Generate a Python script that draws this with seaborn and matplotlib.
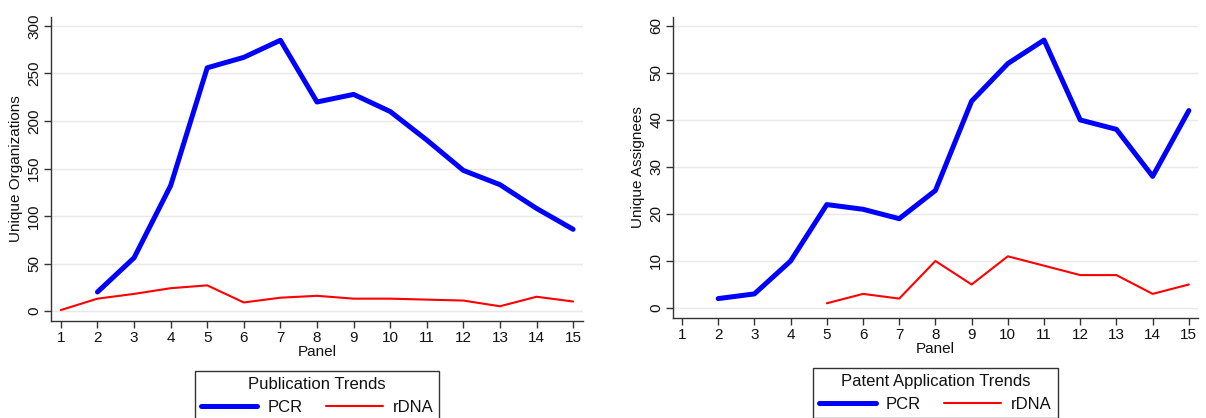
import pandas as pd
import matplotlib
matplotlib.use("Agg")
import matplotlib.pyplot as plt
import seaborn as sns

sns.set_style("white")
plt.rcParams['font.family'] = ['Liberation Sans', 'DejaVu Sans']

# publication trends (left)
pub_pcr_panel = [2, 3, 4, 5, 6, 7, 8, 9, 10, 11, 12, 13, 14, 15]
pub_pcr = [20, 56, 132, 256, 267, 285, 220, 228, 210, 180, 148, 133, 108, 86]
pub_rdna_panel = [1, 2, 3, 4, 5, 6, 7, 8, 9, 10, 11, 12, 13, 14, 15]
pub_rdna = [1, 13, 18, 24, 27, 9, 14, 16, 13, 13, 12, 11, 5, 15, 10]

# patent application trends (right)
pat_pcr_panel = [2, 3, 4, 5, 6, 7, 8, 9, 10, 11, 12, 13, 14, 15]
pat_pcr = [2, 3, 10, 22, 21, 19, 25, 44, 52, 57, 40, 38, 28, 42]
pat_rdna_panel = [5, 6, 7, 8, 9, 10, 11, 12, 13, 14, 15]
pat_rdna = [1, 3, 2, 10, 5, 11, 9, 7, 7, 3, 5]

panels = list(range(1, 16))

fig = plt.figure(figsize=(12.06, 4.18), dpi=100)
ax1 = fig.add_axes([0.0423, 0.2321, 0.4411, 0.7273])
ax2 = fig.add_axes([0.5580, 0.2392, 0.4353, 0.7201])


def draw(ax, pcr_x, pcr_y, rdna_x, rdna_y, xlim, ylim, yticks, ylabel, title, leg_xy):
    sns.lineplot(x=pcr_x, y=pcr_y, ax=ax, color='blue', linewidth=3.6, label='PCR')
    sns.lineplot(x=rdna_x, y=rdna_y, ax=ax, color='red', linewidth=1.5, label='rDNA')
    ax.set_xlim(*xlim)
    ax.set_ylim(*ylim)
    ax.set_xticks(panels)
    ax.set_yticks(yticks)
    ax.tick_params(axis='both', labelsize=11, length=5, width=1, color='#333333',
                   direction='out', bottom=True, left=True, pad=2, labelcolor='#111111')
    for lab in ax.get_yticklabels():
        lab.set_rotation(90)
        lab.set_va('center')
    ax.grid(axis='y', color='#e8e8e8', linewidth=1)
    ax.set_axisbelow(True)
    for s in ['top', 'right']:
        ax.spines[s].set_visible(False)
    for s in ['left', 'bottom']:
        ax.spines[s].set_color('#333333')
        ax.spines[s].set_linewidth(1)
    ax.set_xlabel('Panel', fontsize=11, labelpad=0, color='#111111')
    ax.set_ylabel(ylabel, fontsize=11, labelpad=3, color='#111111')
    ax.legend_.remove()
    h, l = ax.get_legend_handles_labels()
    leg = fig.legend(h, l, title=title, ncol=2, loc='upper center',
                     bbox_to_anchor=leg_xy, bbox_transform=fig.transFigure,
                     fontsize=12, title_fontsize=12, frameon=True, fancybox=False,
                     edgecolor='black', handlelength=3.4, handletextpad=0.6,
                     columnspacing=1.4, borderpad=0.35, borderaxespad=0)
    leg.get_frame().set_linewidth(1)
    plt.setp(leg.get_texts(), color='#111111')
    leg.get_title().set_color('#111111')


draw(ax1, pub_pcr_panel, pub_pcr, pub_rdna_panel, pub_rdna, (0.73, 15.27), (-10.5, 309.5),
     [0, 50, 100, 150, 200, 250, 300], 'Unique Organizations', 'Publication Trends',
     (0.2629, 0.1124))
draw(ax2, pat_pcr_panel, pat_pcr, pat_rdna_panel, pat_rdna, (0.75, 15.25), (-2.13, 61.9),
     [0, 10, 20, 30, 40, 50, 60], 'Unique Assignees', 'Patent Application Trends',
     (0.7757, 0.1196))

fig.savefig('out.png', dpi=100)
